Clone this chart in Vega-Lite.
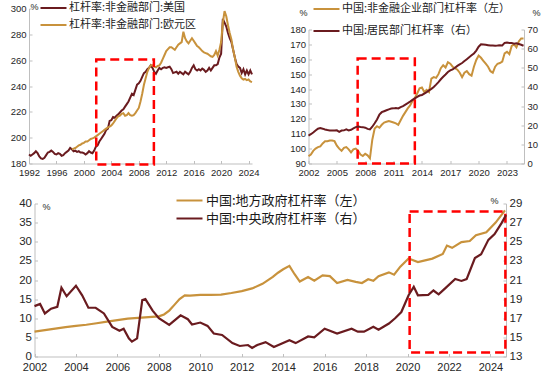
{
  "$schema": "https://vega.github.io/schema/vega-lite/v6.json",
  "padding": {"left": 10, "top": 2.5, "right": 0, "bottom": 0},
  "datasets": {
    "p1": [
      {"t":1992.0,"v":187,"s":"杠杆率:非金融部门:美国"},{"t":1992.25,"v":186,"s":"杠杆率:非金融部门:美国"},{"t":1992.5,"v":187,"s":"杠杆率:非金融部门:美国"},{"t":1992.75,"v":188,"s":"杠杆率:非金融部门:美国"},
      {"t":1993.0,"v":189.5,"s":"杠杆率:非金融部门:美国"},{"t":1993.25,"v":188,"s":"杠杆率:非金融部门:美国"},{"t":1993.5,"v":185.5,"s":"杠杆率:非金融部门:美国"},{"t":1993.75,"v":184,"s":"杠杆率:非金融部门:美国"},
      {"t":1994.0,"v":183.5,"s":"杠杆率:非金融部门:美国"},{"t":1994.25,"v":184.5,"s":"杠杆率:非金融部门:美国"},{"t":1994.5,"v":186.5,"s":"杠杆率:非金融部门:美国"},{"t":1994.75,"v":188.5,"s":"杠杆率:非金融部门:美国"},
      {"t":1995.0,"v":189,"s":"杠杆率:非金融部门:美国"},{"t":1995.25,"v":190,"s":"杠杆率:非金融部门:美国"},{"t":1995.5,"v":189,"s":"杠杆率:非金融部门:美国"},{"t":1995.75,"v":187.5,"s":"杠杆率:非金融部门:美国"},
      {"t":1996.0,"v":187,"s":"杠杆率:非金融部门:美国"},{"t":1996.25,"v":188,"s":"杠杆率:非金融部门:美国"},{"t":1996.5,"v":187.5,"s":"杠杆率:非金融部门:美国"},{"t":1996.75,"v":186,"s":"杠杆率:非金融部门:美国"},
      {"t":1997.0,"v":186.5,"s":"杠杆率:非金融部门:美国"},{"t":1997.25,"v":188,"s":"杠杆率:非金融部门:美国"},{"t":1997.5,"v":189,"s":"杠杆率:非金融部门:美国"},{"t":1997.75,"v":190,"s":"杠杆率:非金融部门:美国"},
      {"t":1998.0,"v":192,"s":"杠杆率:非金融部门:美国"},{"t":1998.25,"v":191,"s":"杠杆率:非金融部门:美国"},{"t":1998.5,"v":189.5,"s":"杠杆率:非金融部门:美国"},{"t":1998.75,"v":190,"s":"杠杆率:非金融部门:美国"},
      {"t":1999.0,"v":189,"s":"杠杆率:非金融部门:美国"},{"t":1999.25,"v":189.5,"s":"杠杆率:非金融部门:美国"},{"t":1999.5,"v":188.5,"s":"杠杆率:非金融部门:美国"},{"t":1999.75,"v":188.5,"s":"杠杆率:非金融部门:美国"},
      {"t":2000.0,"v":188,"s":"杠杆率:非金融部门:美国"},{"t":2000.25,"v":187,"s":"杠杆率:非金融部门:美国"},{"t":2000.5,"v":188,"s":"杠杆率:非金融部门:美国"},{"t":2000.75,"v":189.5,"s":"杠杆率:非金融部门:美国"},
      {"t":2001.0,"v":188.5,"s":"杠杆率:非金融部门:美国"},{"t":2001.25,"v":188,"s":"杠杆率:非金融部门:美国"},{"t":2001.5,"v":190,"s":"杠杆率:非金融部门:美国"},{"t":2001.75,"v":193,"s":"杠杆率:非金融部门:美国"},
      {"t":2002.0,"v":194,"s":"杠杆率:非金融部门:美国"},{"t":2002.25,"v":197,"s":"杠杆率:非金融部门:美国"},{"t":2002.5,"v":199,"s":"杠杆率:非金融部门:美国"},{"t":2002.75,"v":201,"s":"杠杆率:非金融部门:美国"},
      {"t":2003.0,"v":203,"s":"杠杆率:非金融部门:美国"},{"t":2003.25,"v":206,"s":"杠杆率:非金融部门:美国"},{"t":2003.5,"v":207,"s":"杠杆率:非金融部门:美国"},{"t":2003.75,"v":213,"s":"杠杆率:非金融部门:美国"},
      {"t":2004.0,"v":213.5,"s":"杠杆率:非金融部门:美国"},{"t":2004.25,"v":216,"s":"杠杆率:非金融部门:美国"},{"t":2004.5,"v":215.5,"s":"杠杆率:非金融部门:美国"},{"t":2004.75,"v":217,"s":"杠杆率:非金融部门:美国"},
      {"t":2005.0,"v":218,"s":"杠杆率:非金融部门:美国"},{"t":2005.25,"v":219.5,"s":"杠杆率:非金融部门:美国"},{"t":2005.5,"v":221,"s":"杠杆率:非金融部门:美国"},{"t":2005.75,"v":222,"s":"杠杆率:非金融部门:美国"},
      {"t":2006.0,"v":224,"s":"杠杆率:非金融部门:美国"},{"t":2006.25,"v":226,"s":"杠杆率:非金融部门:美国"},{"t":2006.5,"v":228,"s":"杠杆率:非金融部门:美国"},{"t":2006.75,"v":231,"s":"杠杆率:非金融部门:美国"},
      {"t":2007.0,"v":234,"s":"杠杆率:非金融部门:美国"},{"t":2007.25,"v":233,"s":"杠杆率:非金融部门:美国"},{"t":2007.5,"v":237,"s":"杠杆率:非金融部门:美国"},{"t":2007.75,"v":241,"s":"杠杆率:非金融部门:美国"},
      {"t":2008.0,"v":242,"s":"杠杆率:非金融部门:美国"},{"t":2008.25,"v":244,"s":"杠杆率:非金融部门:美国"},{"t":2008.5,"v":247,"s":"杠杆率:非金融部门:美国"},{"t":2008.75,"v":250,"s":"杠杆率:非金融部门:美国"},
      {"t":2009.0,"v":251,"s":"杠杆率:非金融部门:美国"},{"t":2009.25,"v":253,"s":"杠杆率:非金融部门:美国"},{"t":2009.5,"v":254,"s":"杠杆率:非金融部门:美国"},{"t":2009.75,"v":256,"s":"杠杆率:非金融部门:美国"},
      {"t":2010.0,"v":254,"s":"杠杆率:非金融部门:美国"},{"t":2010.25,"v":251,"s":"杠杆率:非金融部门:美国"},{"t":2010.5,"v":249.5,"s":"杠杆率:非金融部门:美国"},{"t":2010.75,"v":252,"s":"杠杆率:非金融部门:美国"},
      {"t":2011.0,"v":254,"s":"杠杆率:非金融部门:美国"},{"t":2011.25,"v":253,"s":"杠杆率:非金融部门:美国"},{"t":2011.5,"v":254,"s":"杠杆率:非金融部门:美国"},{"t":2011.75,"v":254.5,"s":"杠杆率:非金融部门:美国"},
      {"t":2012.0,"v":254,"s":"杠杆率:非金融部门:美国"},{"t":2012.25,"v":254.5,"s":"杠杆率:非金融部门:美国"},{"t":2012.5,"v":255,"s":"杠杆率:非金融部门:美国"},{"t":2012.75,"v":253,"s":"杠杆率:非金融部门:美国"},
      {"t":2013.0,"v":250,"s":"杠杆率:非金融部门:美国"},{"t":2013.25,"v":250.5,"s":"杠杆率:非金融部门:美国"},{"t":2013.5,"v":251,"s":"杠杆率:非金融部门:美国"},{"t":2013.75,"v":249.5,"s":"杠杆率:非金融部门:美国"},
      {"t":2014.0,"v":251,"s":"杠杆率:非金融部门:美国"},{"t":2014.25,"v":250,"s":"杠杆率:非金融部门:美国"},{"t":2014.5,"v":249,"s":"杠杆率:非金融部门:美国"},{"t":2014.75,"v":251,"s":"杠杆率:非金融部门:美国"},
      {"t":2015.0,"v":250,"s":"杠杆率:非金融部门:美国"},{"t":2015.25,"v":249,"s":"杠杆率:非金融部门:美国"},{"t":2015.5,"v":251,"s":"杠杆率:非金融部门:美国"},{"t":2015.75,"v":254,"s":"杠杆率:非金融部门:美国"},
      {"t":2016.0,"v":256,"s":"杠杆率:非金融部门:美国"},{"t":2016.25,"v":253,"s":"杠杆率:非金融部门:美国"},{"t":2016.5,"v":252,"s":"杠杆率:非金融部门:美国"},{"t":2016.75,"v":253,"s":"杠杆率:非金融部门:美国"},
      {"t":2017.0,"v":252,"s":"杠杆率:非金融部门:美国"},{"t":2017.25,"v":253.5,"s":"杠杆率:非金融部门:美国"},{"t":2017.5,"v":252.5,"s":"杠杆率:非金融部门:美国"},{"t":2017.75,"v":251,"s":"杠杆率:非金融部门:美国"},
      {"t":2018.0,"v":252,"s":"杠杆率:非金融部门:美国"},{"t":2018.25,"v":254,"s":"杠杆率:非金融部门:美国"},{"t":2018.5,"v":252,"s":"杠杆率:非金融部门:美国"},{"t":2018.75,"v":254,"s":"杠杆率:非金融部门:美国"},
      {"t":2019.0,"v":256,"s":"杠杆率:非金融部门:美国"},{"t":2019.25,"v":256,"s":"杠杆率:非金融部门:美国"},{"t":2019.5,"v":257,"s":"杠杆率:非金融部门:美国"},{"t":2019.75,"v":262,"s":"杠杆率:非金融部门:美国"},
      {"t":2020.0,"v":265,"s":"杠杆率:非金融部门:美国"},{"t":2020.25,"v":292,"s":"杠杆率:非金融部门:美国"},{"t":2020.5,"v":289,"s":"杠杆率:非金融部门:美国"},{"t":2020.75,"v":286,"s":"杠杆率:非金融部门:美国"},
      {"t":2021.0,"v":281,"s":"杠杆率:非金融部门:美国"},{"t":2021.25,"v":277,"s":"杠杆率:非金融部门:美国"},{"t":2021.5,"v":274,"s":"杠杆率:非金融部门:美国"},{"t":2021.75,"v":268,"s":"杠杆率:非金融部门:美国"},
      {"t":2022.0,"v":262,"s":"杠杆率:非金融部门:美国"},{"t":2022.25,"v":257,"s":"杠杆率:非金融部门:美国"},{"t":2022.5,"v":255,"s":"杠杆率:非金融部门:美国"},{"t":2022.75,"v":254,"s":"杠杆率:非金融部门:美国"},
      {"t":2023.0,"v":250,"s":"杠杆率:非金融部门:美国"},{"t":2023.25,"v":253,"s":"杠杆率:非金融部门:美国"},{"t":2023.5,"v":249,"s":"杠杆率:非金融部门:美国"},{"t":2023.75,"v":252,"s":"杠杆率:非金融部门:美国"},
      {"t":2024.0,"v":249,"s":"杠杆率:非金融部门:美国"},{"t":2024.25,"v":252,"s":"杠杆率:非金融部门:美国"},{"t":2024.5,"v":249,"s":"杠杆率:非金融部门:美国"},
      {"t":1998.25,"v":191,"s":"杠杆率:非金融部门:欧元区"},{"t":1998.5,"v":191.5,"s":"杠杆率:非金融部门:欧元区"},{"t":1998.75,"v":192,"s":"杠杆率:非金融部门:欧元区"},
      {"t":1999.0,"v":193,"s":"杠杆率:非金融部门:欧元区"},{"t":1999.25,"v":194,"s":"杠杆率:非金融部门:欧元区"},{"t":1999.5,"v":194.5,"s":"杠杆率:非金融部门:欧元区"},{"t":1999.75,"v":195.5,"s":"杠杆率:非金融部门:欧元区"},
      {"t":2000.0,"v":196,"s":"杠杆率:非金融部门:欧元区"},{"t":2000.25,"v":197,"s":"杠杆率:非金融部门:欧元区"},{"t":2000.5,"v":197,"s":"杠杆率:非金融部门:欧元区"},{"t":2000.75,"v":198,"s":"杠杆率:非金融部门:欧元区"},
      {"t":2001.0,"v":199,"s":"杠杆率:非金融部门:欧元区"},{"t":2001.25,"v":199.5,"s":"杠杆率:非金融部门:欧元区"},{"t":2001.5,"v":200,"s":"杠杆率:非金融部门:欧元区"},{"t":2001.75,"v":201,"s":"杠杆率:非金融部门:欧元区"},
      {"t":2002.0,"v":202,"s":"杠杆率:非金融部门:欧元区"},{"t":2002.25,"v":203,"s":"杠杆率:非金融部门:欧元区"},{"t":2002.5,"v":204,"s":"杠杆率:非金融部门:欧元区"},{"t":2002.75,"v":205,"s":"杠杆率:非金融部门:欧元区"},
      {"t":2003.0,"v":206,"s":"杠杆率:非金融部门:欧元区"},{"t":2003.25,"v":207,"s":"杠杆率:非金融部门:欧元区"},{"t":2003.5,"v":208,"s":"杠杆率:非金融部门:欧元区"},{"t":2003.75,"v":208.5,"s":"杠杆率:非金融部门:欧元区"},
      {"t":2004.0,"v":209.5,"s":"杠杆率:非金融部门:欧元区"},{"t":2004.25,"v":211,"s":"杠杆率:非金融部门:欧元区"},{"t":2004.5,"v":213,"s":"杠杆率:非金融部门:欧元区"},{"t":2004.75,"v":215,"s":"杠杆率:非金融部门:欧元区"},
      {"t":2005.0,"v":216.5,"s":"杠杆率:非金融部门:欧元区"},{"t":2005.25,"v":217,"s":"杠杆率:非金融部门:欧元区"},{"t":2005.5,"v":218.5,"s":"杠杆率:非金融部门:欧元区"},{"t":2005.75,"v":219,"s":"杠杆率:非金融部门:欧元区"},
      {"t":2006.0,"v":217,"s":"杠杆率:非金融部门:欧元区"},{"t":2006.25,"v":217.5,"s":"杠杆率:非金融部门:欧元区"},{"t":2006.5,"v":219,"s":"杠杆率:非金融部门:欧元区"},{"t":2006.75,"v":217.5,"s":"杠杆率:非金融部门:欧元区"},
      {"t":2007.0,"v":217,"s":"杠杆率:非金融部门:欧元区"},{"t":2007.25,"v":217.5,"s":"杠杆率:非金融部门:欧元区"},{"t":2007.5,"v":219,"s":"杠杆率:非金融部门:欧元区"},{"t":2007.75,"v":221,"s":"杠杆率:非金融部门:欧元区"},
      {"t":2008.0,"v":223,"s":"杠杆率:非金融部门:欧元区"},{"t":2008.25,"v":228,"s":"杠杆率:非金融部门:欧元区"},{"t":2008.5,"v":234,"s":"杠杆率:非金融部门:欧元区"},{"t":2008.75,"v":241,"s":"杠杆率:非金融部门:欧元区"},
      {"t":2009.0,"v":246,"s":"杠杆率:非金融部门:欧元区"},{"t":2009.25,"v":251,"s":"杠杆率:非金融部门:欧元区"},{"t":2009.5,"v":254,"s":"杠杆率:非金融部门:欧元区"},{"t":2009.75,"v":256,"s":"杠杆率:非金融部门:欧元区"},
      {"t":2010.0,"v":256,"s":"杠杆率:非金融部门:欧元区"},{"t":2010.25,"v":255,"s":"杠杆率:非金融部门:欧元区"},{"t":2010.5,"v":254.5,"s":"杠杆率:非金融部门:欧元区"},{"t":2010.75,"v":255.5,"s":"杠杆率:非金融部门:欧元区"},
      {"t":2011.0,"v":256,"s":"杠杆率:非金融部门:欧元区"},{"t":2011.25,"v":258,"s":"杠杆率:非金融部门:欧元区"},{"t":2011.5,"v":261,"s":"杠杆率:非金融部门:欧元区"},{"t":2011.75,"v":264,"s":"杠杆率:非金融部门:欧元区"},
      {"t":2012.0,"v":267,"s":"杠杆率:非金融部门:欧元区"},{"t":2012.25,"v":268.5,"s":"杠杆率:非金融部门:欧元区"},{"t":2012.5,"v":270,"s":"杠杆率:非金融部门:欧元区"},{"t":2012.75,"v":270,"s":"杠杆率:非金融部门:欧元区"},
      {"t":2013.0,"v":269,"s":"杠杆率:非金融部门:欧元区"},{"t":2013.25,"v":268,"s":"杠杆率:非金融部门:欧元区"},{"t":2013.5,"v":270,"s":"杠杆率:非金融部门:欧元区"},{"t":2013.75,"v":272,"s":"杠杆率:非金融部门:欧元区"},
      {"t":2014.0,"v":273,"s":"杠杆率:非金融部门:欧元区"},{"t":2014.25,"v":274,"s":"杠杆率:非金融部门:欧元区"},{"t":2014.5,"v":282,"s":"杠杆率:非金融部门:欧元区"},{"t":2014.75,"v":277,"s":"杠杆率:非金融部门:欧元区"},
      {"t":2015.0,"v":274.5,"s":"杠杆率:非金融部门:欧元区"},{"t":2015.25,"v":273,"s":"杠杆率:非金融部门:欧元区"},{"t":2015.5,"v":275,"s":"杠杆率:非金融部门:欧元区"},{"t":2015.75,"v":277,"s":"杠杆率:非金融部门:欧元区"},
      {"t":2016.0,"v":275,"s":"杠杆率:非金融部门:欧元区"},{"t":2016.25,"v":273,"s":"杠杆率:非金融部门:欧元区"},{"t":2016.5,"v":271,"s":"杠杆率:非金融部门:欧元区"},{"t":2016.75,"v":270,"s":"杠杆率:非金融部门:欧元区"},
      {"t":2017.0,"v":268.5,"s":"杠杆率:非金融部门:欧元区"},{"t":2017.25,"v":267,"s":"杠杆率:非金融部门:欧元区"},{"t":2017.5,"v":266,"s":"杠杆率:非金融部门:欧元区"},{"t":2017.75,"v":265.5,"s":"杠杆率:非金融部门:欧元区"},
      {"t":2018.0,"v":265,"s":"杠杆率:非金融部门:欧元区"},{"t":2018.25,"v":264,"s":"杠杆率:非金融部门:欧元区"},{"t":2018.5,"v":263,"s":"杠杆率:非金融部门:欧元区"},{"t":2018.75,"v":262.5,"s":"杠杆率:非金融部门:欧元区"},
      {"t":2019.0,"v":264,"s":"杠杆率:非金融部门:欧元区"},{"t":2019.25,"v":267,"s":"杠杆率:非金融部门:欧元区"},{"t":2019.5,"v":263.5,"s":"杠杆率:非金融部门:欧元区"},{"t":2019.75,"v":268,"s":"杠杆率:非金融部门:欧元区"},
      {"t":2020.0,"v":274,"s":"杠杆率:非金融部门:欧元区"},{"t":2020.25,"v":289,"s":"杠杆率:非金融部门:欧元区"},{"t":2020.5,"v":298,"s":"杠杆率:非金融部门:欧元区"},{"t":2020.75,"v":294,"s":"杠杆率:非金融部门:欧元区"},
      {"t":2021.0,"v":287,"s":"杠杆率:非金融部门:欧元区"},{"t":2021.25,"v":281,"s":"杠杆率:非金融部门:欧元区"},{"t":2021.5,"v":276,"s":"杠杆率:非金融部门:欧元区"},{"t":2021.75,"v":268,"s":"杠杆率:非金融部门:欧元区"},
      {"t":2022.0,"v":262,"s":"杠杆率:非金融部门:欧元区"},{"t":2022.25,"v":255,"s":"杠杆率:非金融部门:欧元区"},{"t":2022.5,"v":251,"s":"杠杆率:非金融部门:欧元区"},{"t":2022.75,"v":248,"s":"杠杆率:非金融部门:欧元区"},
      {"t":2023.0,"v":246,"s":"杠杆率:非金融部门:欧元区"},{"t":2023.25,"v":245,"s":"杠杆率:非金融部门:欧元区"},{"t":2023.5,"v":245.5,"s":"杠杆率:非金融部门:欧元区"},{"t":2023.75,"v":244.5,"s":"杠杆率:非金融部门:欧元区"},
      {"t":2024.0,"v":245,"s":"杠杆率:非金融部门:欧元区"},{"t":2024.25,"v":243.5,"s":"杠杆率:非金融部门:欧元区"},{"t":2024.5,"v":243,"s":"杠杆率:非金融部门:欧元区"}
    ],
    "box1": [{"t":2001.8,"t2":2010.2,"v":179.3,"v2":260.5}],
    "p2a": [
      {"t":2002.0,"v":95},{"t":2002.25,"v":96},{"t":2002.5,"v":98.5},{"t":2002.75,"v":100},
      {"t":2003.0,"v":101},{"t":2003.25,"v":101.5},{"t":2003.5,"v":103.5},{"t":2003.75,"v":105},
      {"t":2004.0,"v":105},{"t":2004.25,"v":105.5},{"t":2004.5,"v":105.5},{"t":2004.75,"v":105},
      {"t":2005.0,"v":102},{"t":2005.25,"v":100},{"t":2005.5,"v":98.5},{"t":2005.75,"v":100.5},
      {"t":2006.0,"v":101},{"t":2006.25,"v":99.5},{"t":2006.5,"v":97.5},{"t":2006.75,"v":99.5},
      {"t":2007.0,"v":100},{"t":2007.25,"v":98.5},{"t":2007.5,"v":96},{"t":2007.75,"v":95},
      {"t":2008.0,"v":96.5},{"t":2008.25,"v":95.5},{"t":2008.5,"v":93.5},{"t":2008.75,"v":106},
      {"t":2009.0,"v":113.5},{"t":2009.25,"v":115},{"t":2009.5,"v":114},{"t":2009.75,"v":116},
      {"t":2010.0,"v":117.5},{"t":2010.25,"v":118},{"t":2010.5,"v":118.5},{"t":2010.75,"v":118},
      {"t":2011.0,"v":117.5},{"t":2011.25,"v":117},{"t":2011.5,"v":116},{"t":2011.75,"v":119},
      {"t":2012.0,"v":122},{"t":2012.25,"v":124.5},{"t":2012.5,"v":127},{"t":2012.75,"v":129},
      {"t":2013.0,"v":132},{"t":2013.25,"v":134},{"t":2013.5,"v":137},{"t":2013.75,"v":140.5},
      {"t":2014.0,"v":141},{"t":2014.25,"v":138},{"t":2014.5,"v":139.5},{"t":2014.75,"v":138},
      {"t":2015.0,"v":147},{"t":2015.25,"v":148},{"t":2015.5,"v":147.5},{"t":2015.75,"v":150},
      {"t":2016.0,"v":154},{"t":2016.25,"v":156},{"t":2016.5,"v":154.5},{"t":2016.75,"v":158},
      {"t":2017.0,"v":157},{"t":2017.25,"v":155},{"t":2017.5,"v":154},{"t":2017.75,"v":153},
      {"t":2018.0,"v":151},{"t":2018.25,"v":148},{"t":2018.5,"v":151},{"t":2018.75,"v":152},
      {"t":2019.0,"v":150},{"t":2019.25,"v":149},{"t":2019.5,"v":155},{"t":2019.75,"v":159.5},
      {"t":2020.0,"v":162.5},{"t":2020.25,"v":161},{"t":2020.5,"v":159},{"t":2020.75,"v":157},
      {"t":2021.0,"v":155},{"t":2021.25,"v":152},{"t":2021.5,"v":151},{"t":2021.75,"v":155},
      {"t":2022.0,"v":157},{"t":2022.25,"v":157.5},{"t":2022.5,"v":158.5},{"t":2022.75,"v":164},
      {"t":2023.0,"v":165},{"t":2023.25,"v":163.5},{"t":2023.5,"v":169},{"t":2023.75,"v":170},
      {"t":2024.0,"v":168},{"t":2024.25,"v":172},{"t":2024.5,"v":174},{"t":2024.75,"v":174}
    ],
    "p2b": [
      {"t":2002.0,"v":14.6},{"t":2002.25,"v":15.3},{"t":2002.5,"v":16.2},{"t":2002.75,"v":17.2},
      {"t":2003.0,"v":18.2},{"t":2003.25,"v":18.5},{"t":2003.5,"v":18.2},{"t":2003.75,"v":17.8},
      {"t":2004.0,"v":17.5},{"t":2004.25,"v":17.3},{"t":2004.5,"v":17.3},{"t":2004.75,"v":17.2},
      {"t":2005.0,"v":17.3},{"t":2005.25,"v":16.5},{"t":2005.5,"v":17.2},{"t":2005.75,"v":17.3},
      {"t":2006.0,"v":17.8},{"t":2006.25,"v":17.3},{"t":2006.5,"v":17.6},{"t":2006.75,"v":18.3},
      {"t":2007.0,"v":19},{"t":2007.25,"v":19.3},{"t":2007.5,"v":19.1},{"t":2007.75,"v":19.0},
      {"t":2008.0,"v":18.7},{"t":2008.25,"v":18.1},{"t":2008.5,"v":17.8},{"t":2008.75,"v":19.2},
      {"t":2009.0,"v":21},{"t":2009.25,"v":23},{"t":2009.5,"v":25.5},{"t":2009.75,"v":26.8},
      {"t":2010.0,"v":27.3},{"t":2010.25,"v":27.8},{"t":2010.5,"v":28.3},{"t":2010.75,"v":28.7},
      {"t":2011.0,"v":28.8},{"t":2011.25,"v":29},{"t":2011.5,"v":28.8},{"t":2011.75,"v":29.5},
      {"t":2012.0,"v":30},{"t":2012.25,"v":30.8},{"t":2012.5,"v":31.5},{"t":2012.75,"v":32.3},
      {"t":2013.0,"v":33.2},{"t":2013.25,"v":34},{"t":2013.5,"v":34.8},{"t":2013.75,"v":35.5},
      {"t":2014.0,"v":35.8},{"t":2014.25,"v":36.5},{"t":2014.5,"v":37.3},{"t":2014.75,"v":38.2},
      {"t":2015.0,"v":39},{"t":2015.25,"v":40},{"t":2015.5,"v":41.2},{"t":2015.75,"v":42.5},
      {"t":2016.0,"v":44},{"t":2016.25,"v":45.3},{"t":2016.5,"v":46.5},{"t":2016.75,"v":47.8},
      {"t":2017.0,"v":48.6},{"t":2017.25,"v":49.2},{"t":2017.5,"v":50},{"t":2017.75,"v":51},
      {"t":2018.0,"v":51.8},{"t":2018.25,"v":52.5},{"t":2018.5,"v":53.5},{"t":2018.75,"v":54.5},
      {"t":2019.0,"v":55.5},{"t":2019.25,"v":56.5},{"t":2019.5,"v":57.5},{"t":2019.75,"v":59},
      {"t":2020.0,"v":61},{"t":2020.25,"v":62.3},{"t":2020.5,"v":62.2},{"t":2020.75,"v":62},
      {"t":2021.0,"v":61.8},{"t":2021.25,"v":61.6},{"t":2021.5,"v":61.6},{"t":2021.75,"v":61.5},
      {"t":2022.0,"v":61.6},{"t":2022.25,"v":61.8},{"t":2022.5,"v":61.7},{"t":2022.75,"v":63},
      {"t":2023.0,"v":63.2},{"t":2023.25,"v":63},{"t":2023.5,"v":63},{"t":2023.75,"v":62.6},
      {"t":2024.0,"v":62.8},{"t":2024.25,"v":62.4},{"t":2024.5,"v":62},{"t":2024.75,"v":61.5}
    ],
    "box2": [{"t":2007.2,"t2":2013.25,"v":90,"v2":160.5}],
    "p3a": [
      {"t":2002.0,"v":6.5},{"t":2002.5,"v":6.9},{"t":2003.0,"v":7.3},{"t":2003.5,"v":7.7},{"t":2004.0,"v":8.0},{"t":2004.5,"v":8.3},
      {"t":2005.0,"v":8.7},{"t":2005.5,"v":9.1},{"t":2006.0,"v":9.5},{"t":2006.5,"v":9.9},{"t":2007.0,"v":10.1},{"t":2007.5,"v":10.3},
      {"t":2008.0,"v":10.5},{"t":2008.25,"v":11.0},{"t":2008.5,"v":12.0},{"t":2008.75,"v":13.5},{"t":2009.0,"v":15.0},{"t":2009.25,"v":16.0},
      {"t":2009.5,"v":15.9},{"t":2010.0,"v":16.1},{"t":2010.5,"v":16.1},{"t":2011.0,"v":16.2},{"t":2011.5,"v":16.6},{"t":2012.0,"v":17.1},
      {"t":2012.5,"v":17.8},{"t":2013.0,"v":19.0},{"t":2013.5,"v":20.8},{"t":2013.75,"v":21.9},{"t":2014.0,"v":22.8},{"t":2014.3,"v":23.7},
      {"t":2014.55,"v":21.5},{"t":2014.8,"v":19.6},{"t":2015.2,"v":20.8},{"t":2015.5,"v":19.8},{"t":2015.9,"v":21.2},{"t":2016.25,"v":21.0},
      {"t":2016.6,"v":19.2},{"t":2017.1,"v":20.0},{"t":2017.5,"v":19.5},{"t":2017.8,"v":19.2},{"t":2018.1,"v":20.2},{"t":2018.35,"v":19.8},
      {"t":2018.6,"v":21.0},{"t":2019.1,"v":22.0},{"t":2019.35,"v":21.4},{"t":2019.65,"v":23.5},{"t":2020.05,"v":25.6},{"t":2020.5,"v":24.7},
      {"t":2021.2,"v":25.6},{"t":2021.7,"v":26.8},{"t":2021.9,"v":29.0},{"t":2022.15,"v":28.4},{"t":2022.6,"v":29.9},{"t":2023.0,"v":30.2},
      {"t":2023.3,"v":31.7},{"t":2023.8,"v":32.5},{"t":2024.25,"v":35.0},{"t":2024.7,"v":38.2}
    ],
    "p3b": [
      {"t":2002.0,"v":18.27},{"t":2002.27,"v":18.5},{"t":2002.5,"v":17.5},{"t":2002.8,"v":18.0},{"t":2003.1,"v":18.2},{"t":2003.3,"v":20.2},
      {"t":2003.55,"v":19.3},{"t":2004.0,"v":20.4},{"t":2004.3,"v":19.4},{"t":2004.6,"v":18.1},{"t":2004.95,"v":18.1},{"t":2005.35,"v":17.5},
      {"t":2005.75,"v":16.1},{"t":2006.1,"v":15.7},{"t":2006.3,"v":15.9},{"t":2006.55,"v":14.9},{"t":2006.7,"v":14.55},{"t":2006.95,"v":14.9},
      {"t":2007.2,"v":18.9},{"t":2007.35,"v":19.0},{"t":2007.7,"v":17.8},{"t":2008.0,"v":17.0},{"t":2008.5,"v":16.3},{"t":2009.05,"v":17.3},
      {"t":2009.4,"v":16.9},{"t":2009.6,"v":16.35},{"t":2010.0,"v":16.55},{"t":2010.35,"v":16.2},{"t":2010.65,"v":15.4},{"t":2011.05,"v":15.25},
      {"t":2011.55,"v":14.4},{"t":2011.9,"v":14.1},{"t":2012.3,"v":14.2},{"t":2012.5,"v":13.9},{"t":2012.75,"v":14.2},{"t":2013.15,"v":14.5},
      {"t":2013.55,"v":14.0},{"t":2014.3,"v":14.7},{"t":2014.6,"v":14.4},{"t":2015.2,"v":15.1},{"t":2015.5,"v":15.0},{"t":2016.0,"v":15.9},
      {"t":2016.6,"v":15.4},{"t":2017.3,"v":15.9},{"t":2017.6,"v":15.6},{"t":2017.9,"v":15.6},{"t":2018.35,"v":16.1},{"t":2018.6,"v":15.8},
      {"t":2019.1,"v":16.45},{"t":2019.4,"v":17.0},{"t":2019.7,"v":17.65},{"t":2020.05,"v":19.4},{"t":2020.3,"v":20.3},{"t":2020.5,"v":19.4},
      {"t":2021.0,"v":19.45},{"t":2021.25,"v":19.9},{"t":2021.5,"v":19.5},{"t":2021.8,"v":20.1},{"t":2022.3,"v":21.1},{"t":2022.6,"v":20.9},
      {"t":2022.85,"v":21.1},{"t":2023.25,"v":23.3},{"t":2023.55,"v":23.7},{"t":2023.9,"v":25.2},{"t":2024.2,"v":25.8},{"t":2024.55,"v":27.0},
      {"t":2024.75,"v":27.8}
    ],
    "box3": [{"t":2020.1,"t2":2024.72,"v":1.05,"v2":37.9}]
  },
  "vconcat": [
    {
      "hconcat": [
        {
          "width": 223,
          "height": 155,
          "layer": [
            {
              "data": {"name": "p1"},
              "mark": {"type": "line", "strokeWidth": 2},
              "encoding": {
                "x": {"field": "t", "type": "quantitative",
                  "scale": {"domain": [1992, 2024.5], "nice": false, "zero": false},
                  "axis": {"title": null, "values": [1992,1996,2000,2004,2008,2012,2016,2020,2024], "tickCount": 50, "format": "d", "labelFontSize": 9.5, "labelOverlap": false, "labelPadding": 7}},
                "y": {"field": "v", "type": "quantitative",
                  "scale": {"domain": [180, 300], "nice": false, "zero": false},
                  "axis": {"title": "%", "titleX": 5, "titleY": -2, "values": [180,200,220,240,260,280,300], "tickCount": 50, "format": "d", "labelFontSize": 9.5, "labelOverlap": false}},
                "color": {"field": "s", "type": "nominal",
                  "scale": {"domain": ["杠杆率:非金融部门:美国", "杠杆率:非金融部门:欧元区"], "range": ["#6a1b1f", "#c8923c"]},
                  "legend": {"orient": "none", "legendX": 19, "legendY": -6, "rowPadding": 5, "labelFontSize": 11}}
              }
            },
            {
              "data": {"name": "box1"},
              "mark": {"type": "rect", "fill": "white", "fillOpacity": 0, "stroke": "#ff0000", "strokeWidth": 2.5, "strokeDash": [9, 5]},
              "encoding": {
                "x": {"field": "t", "type": "quantitative"},
                "x2": {"field": "t2"},
                "y": {"field": "v", "type": "quantitative"},
                "y2": {"field": "v2"}
              }
            }
          ]
        },
        {
          "width": 215.5,
          "height": 155,
          "layer": [
            {
              "layer": [
                {
                  "data": {"name": "p2a"},
                  "transform": [{"calculate": "'中国:非金融企业部门杠杆率（左）'", "as": "s"}],
                  "mark": {"type": "line", "strokeWidth": 2},
                  "encoding": {
                    "x": {"field": "t", "type": "quantitative",
                      "scale": {"domain": [2002, 2024.8], "nice": false, "zero": false},
                      "axis": {"title": null, "values": [2002,2005,2008,2011,2014,2017,2020,2023], "tickCount": 50, "format": "d", "labelFontSize": 9.5, "labelOverlap": false, "labelPadding": 7}},
                    "y": {"field": "v", "type": "quantitative",
                      "scale": {"domain": [90, 180], "range": [155, 21], "nice": false, "zero": false},
                      "axis": {"title": "%", "titleX": -5.5, "titleY": 3.7, "values": [90,100,110,120,130,140,150,160,170,180], "tickCount": 50, "format": "d", "labelFontSize": 9.5, "labelOverlap": false}},
                    "color": {"field": "s", "type": "nominal",
                      "scale": {"domain": ["中国:非金融企业部门杠杆率（左）", "中国:居民部门杠杆率（右）"], "range": ["#c8923c", "#6a1b1f"]},
                      "legend": {"orient": "none", "legendX": 12.5, "legendY": -5, "rowPadding": 10, "labelFontSize": 11}}
                  }
                },
                {
                  "data": {"name": "box2"},
                  "mark": {"type": "rect", "fill": "white", "fillOpacity": 0, "stroke": "#ff0000", "strokeWidth": 2.5, "strokeDash": [9, 5]},
                  "encoding": {
                    "x": {"field": "t", "type": "quantitative"},
                    "x2": {"field": "t2"},
                    "y": {"field": "v", "type": "quantitative"},
                    "y2": {"field": "v2"}
                  }
                }
              ]
            },
            {
              "data": {"name": "p2b"},
              "transform": [{"calculate": "'中国:居民部门杠杆率（右）'", "as": "s"}],
              "mark": {"type": "line", "strokeWidth": 2},
              "encoding": {
                "x": {"field": "t", "type": "quantitative"},
                "y": {"field": "v", "type": "quantitative",
                  "scale": {"domain": [0, 70], "range": [155, 21], "nice": false, "zero": false},
                  "axis": {"orient": "right", "title": "%", "titleX": 12, "titleY": 3.7, "values": [0,10,20,30,40,50,60,70], "tickCount": 50, "format": "d", "labelFontSize": 9.5, "labelOverlap": false}},
                "color": {"field": "s", "type": "nominal",
                  "scale": {"domain": ["中国:非金融企业部门杠杆率（左）", "中国:居民部门杠杆率（右）"], "range": ["#c8923c", "#6a1b1f"]}}
              }
            }
          ],
          "resolve": {"scale": {"y": "independent"}}
        }
      ],
      "spacing": 56.5,
      "bounds": "flush",
      "resolve": {"scale": {"color": "independent"}, "legend": {"color": "independent"}}
    },
    {
      "width": 477,
      "height": 153,
      "layer": [
        {
          "layer": [
            {
              "data": {"name": "p3a"},
              "transform": [{"calculate": "'中国:地方政府杠杆率（左）'", "as": "s"}],
              "mark": {"type": "line", "strokeWidth": 2.2},
              "encoding": {
                "x": {"field": "t", "type": "quantitative",
                  "scale": {"domain": [2002, 2024.75], "range": [5.5, 477], "nice": false, "zero": false},
                  "axis": {"title": null, "values": [2002,2004,2006,2008,2010,2012,2014,2016,2018,2020,2022,2024], "tickCount": 50, "format": "d", "labelFontSize": 11, "labelOverlap": false, "labelPadding": 8}},
                "y": {"field": "v", "type": "quantitative",
                  "scale": {"domain": [0, 40], "nice": false, "zero": false},
                  "axis": {"title": "%", "offset": -5.5, "titleX": 11.5, "titleY": 3, "values": [0,5,10,15,20,25,30,35,40], "tickCount": 50, "format": "d", "labelFontSize": 11.5, "labelOverlap": false}},
                "color": {"field": "s", "type": "nominal",
                  "scale": {"domain": ["中国:地方政府杠杆率（左）", "中国:中央政府杠杆率（右）"], "range": ["#c8923c", "#6a1b1f"]},
                  "legend": {"orient": "none", "legendX": 154, "legendY": -9.5, "rowPadding": 4, "labelFontSize": 13}}
              }
            },
            {
              "data": {"name": "box3"},
              "mark": {"type": "rect", "fill": "white", "fillOpacity": 0, "stroke": "#ff0000", "strokeWidth": 2.5, "strokeDash": [9, 5]},
              "encoding": {
                "x": {"field": "t", "type": "quantitative"},
                "x2": {"field": "t2"},
                "y": {"field": "v", "type": "quantitative"},
                "y2": {"field": "v2"}
              }
            }
          ]
        },
        {
          "data": {"name": "p3b"},
          "transform": [{"calculate": "'中国:中央政府杠杆率（右）'", "as": "s"}],
          "mark": {"type": "line", "strokeWidth": 2.2},
          "encoding": {
            "x": {"field": "t", "type": "quantitative"},
            "y": {"field": "v", "type": "quantitative",
              "scale": {"domain": [13, 29], "nice": false, "zero": false},
              "axis": {"orient": "right", "title": "%", "titleX": -12, "titleY": -3.5, "values": [13,15,17,19,21,23,25,27,29], "tickCount": 50, "format": "d", "labelFontSize": 11.5, "labelOverlap": false}},
            "color": {"field": "s", "type": "nominal",
              "scale": {"domain": ["中国:地方政府杠杆率（左）", "中国:中央政府杠杆率（右）"], "range": ["#c8923c", "#6a1b1f"]}}
          }
        }
      ],
      "resolve": {"scale": {"y": "independent"}}
    }
  ],
  "spacing": 16,
  "resolve": {"scale": {"color": "independent"}, "legend": {"color": "independent"}},
  "config": {
    "view": {"stroke": null},
    "font": "Liberation Sans, Noto Sans CJK SC",
    "axis": {
      "grid": false,
      "domainColor": "#bfbfbf",
      "tickColor": "#bfbfbf",
      "tickSize": -3,
      "labelPadding": 6,
      "labelFont": "Liberation Sans",
      "labelColor": "#262626",
      "labelOverlap": false,
      "labelFlush": false,
      "titleFont": "Liberation Sans",
      "titleFontSize": 9,
      "titleFontWeight": "normal",
      "titleColor": "#262626",
      "titleAngle": 0,
      "titleAlign": "center",
      "titleBaseline": "middle"
    },
    "legend": {
      "title": null,
      "direction": "vertical",
      "symbolType": "M-3.25,0H3.25",
      "symbolSize": 64,
      "symbolStrokeWidth": 2,
      "labelFont": "Noto Sans CJK SC",
      "labelColor": "#1a1a1a",
      "labelOffset": 10,
      "labelLimit": 300,
      "padding": 0,
      "offset": 0
    }
  }
}
